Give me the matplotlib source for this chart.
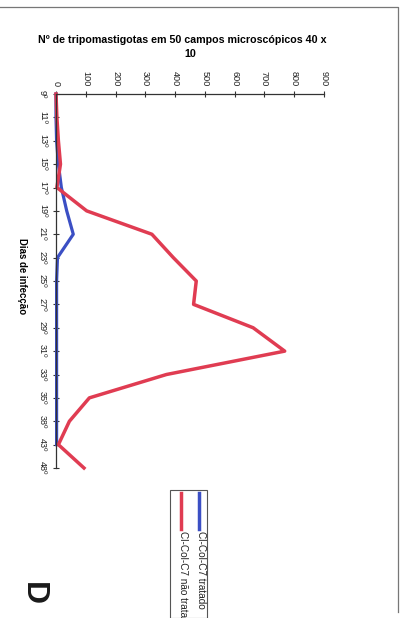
import matplotlib.pyplot as plt
from matplotlib.lines import Line2D
from matplotlib.patches import Rectangle

plt.rcParams['font.family'] = ['Liberation Sans', 'DejaVu Sans']

# dias de infecção e contagem de tripomastigotas por grupo
dias = ['9º', '11º', '13º', '15º', '17º', '19º', '21º', '23º', '25º',
        '27º', '29º', '31º', '33º', '35º', '38º', '43º', '48º']
tratado = [0, 0, 2, 8, 18, 36, 58, 5, 2, 2, 2, 2, 2, 2, 2, 2]
nao_tratado = [0, 3, 8, 15, 3, 103, 322, 394, 471, 462, 662, 768, 371,
               112, 45, 8, 94]
valor_ticks = list(range(0, 1000, 100))

azul = '#3b4fc4'
vermelho = '#e03c52'

W, H = 405, 618
fig = plt.figure(figsize=(W / 100, H / 100), dpi=100)

# eixo de valores no topo, dias descendo pela esquerda
ax = fig.add_axes([56 / W, 1 - 468 / H, 268 / W, 374 / H])
pos = list(range(len(dias)))
ax.plot(tratado, pos[:len(tratado)], color=azul, lw=2.3, clip_on=False)
ax.plot(nao_tratado, pos, color=vermelho, lw=2.5, clip_on=False)

ax.set_xlim(0, 900)
ax.set_ylim(len(dias) - 1, 0)
ax.xaxis.tick_top()
ax.set_xticks(valor_ticks)
ax.set_xticklabels([str(v) for v in valor_ticks], rotation=-90, fontsize=6.6,
                   color='#222222')
ax.set_yticks(pos)
ax.set_yticklabels(dias, rotation=-90, fontsize=6.6, color='#222222',
                   va='center')
ax.tick_params(axis='x', direction='inout', length=5, width=0.8,
               color='#333333', pad=3)
ax.tick_params(axis='y', direction='inout', length=5, width=0.8,
               color='#333333', pad=4)
for s in ['right', 'bottom']:
    ax.spines[s].set_visible(False)
for s in ['top', 'left']:
    ax.spines[s].set_linewidth(0.9)
    ax.spines[s].set_color('#333333')

# título e rótulo dos dias
fig.text(182 / W, 1 - 40 / H, 'Nº de tripomastigotas em 50 campos microscópicos 40 x',
         ha='center', va='center', fontsize=7.7, fontweight='bold')
fig.text(190 / W, 1 - 54 / H, '10', ha='center', va='center', fontsize=7.7,
         fontweight='bold')
fig.text(22 / W, 1 - 276 / H, 'Dias de infecção', rotation=-90, ha='center',
         va='center', fontsize=6.9, fontweight='bold')

# legenda desenhada à mão, girada como o resto
fig.add_artist(Rectangle((170 / W, 0), 37 / W, 1 - 490 / H,
                         transform=fig.transFigure, fill=False,
                         ec='#555555', lw=0.8))
for xl, xt, cor, txt in [(199, 201, azul, 'Cl-Col-C7 tratado'),
                         (181, 183, vermelho, 'Cl-Col-C7 não tratado')]:
    fig.add_artist(Line2D([xl / W, xl / W], [1 - 493 / H, 1 - 529 / H],
                          transform=fig.transFigure, color=cor, lw=2.5))
    fig.text(xt / W, 1 - 531 / H, txt, rotation=-90, ha='center', va='top',
             fontsize=7.2, color='#222222')

fig.text(33 / W, 1 - 594 / H, 'D', rotation=-90, ha='center', va='center',
         fontsize=23, fontweight='bold', color='#1a1a1a')

# moldura da página
fig.add_artist(Line2D([0, 398 / W, 398 / W], [1 - 7 / H, 1 - 7 / H, 1 - 612 / H],
                      transform=fig.transFigure, color='#777777', lw=0.9))

fig.savefig('out.png', dpi=100)
